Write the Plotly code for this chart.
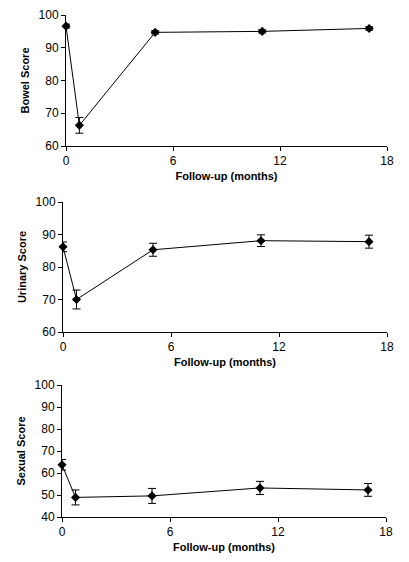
import plotly.graph_objects as go

months = [0, 0.75, 5, 11, 17]
bowel = [96.6, 66.3, 94.7, 95.0, 95.9]
bowel_err = [0.6, 2.4, 0.5, 0.5, 0.5]
urinary = [86.2, 70.0, 85.3, 88.1, 87.8]
urinary_err = [1.5, 2.9, 2.0, 1.8, 2.0]
sexual = [63.7, 48.9, 49.6, 53.2, 52.3]
sexual_err = [2.4, 3.4, 3.4, 3.0, 2.9]

x_ticks = [0, 6, 12, 18]
panels = [
    ("Bowel Score", bowel, bowel_err, [60, 100], [60, 70, 80, 90, 100]),
    ("Urinary Score", urinary, urinary_err, [60, 100], [60, 70, 80, 90, 100]),
    ("Sexual Score", sexual, sexual_err, [40, 100], [40, 50, 60, 70, 80, 90, 100]),
]

# page has an 8px body margin, so the figure is 8px smaller and offset
W, H = 401, 554
# plot areas in figure pixels (x0, x1, ytop, ybottom)
areas = [(58, 379, 7, 138), (55, 379, 194, 324), (54, 378, 377, 509)]

fig = go.Figure()
font_family = "Liberation Sans, Arial, sans-serif"
for i, (name, vals, errs, yr, yt) in enumerate(panels):
    k = "" if i == 0 else str(i + 1)
    fig.add_trace(go.Scatter(
        x=months, y=vals, mode="lines+markers",
        line=dict(color="black", width=1),
        marker=dict(symbol="diamond", size=7, color="black"),
        error_y=dict(type="data", array=errs, visible=True, color="black", thickness=1, width=4),
        xaxis="x" + k, yaxis="y" + k, cliponaxis=False, showlegend=False,
    ))
    x0, x1, yt0, yb = areas[i]
    axis_common = dict(
        showgrid=False, zeroline=False, showline=True, linecolor="black", linewidth=1,
        ticks="outside", ticklen=4, tickcolor="black", tickwidth=1, automargin=False,
        tickfont=dict(family=font_family, size=12, color="black"),
    )
    fig.update_layout(**{
        "xaxis" + k: dict(
            domain=[x0 / W, x1 / W], range=[0, 18], tickvals=x_ticks,
            anchor="y" + k,
            title=dict(text="<b>Follow-up (months)</b>", standoff=4,
                       font=dict(family=font_family, size=11, color="black")),
            **axis_common),
        "yaxis" + k: dict(
            domain=[1 - yb / H, 1 - yt0 / H], range=yr, tickvals=yt,
            anchor="x" + k,
            title=dict(text="<b>" + name + "</b>", standoff=6,
                       font=dict(family=font_family, size=11, color="black")),
            **axis_common),
    })

fig.update_layout(
    width=W, height=H, margin=dict(l=0, r=0, t=0, b=0),
    paper_bgcolor="white", plot_bgcolor="white",
)
fig.write_html("out.html")
